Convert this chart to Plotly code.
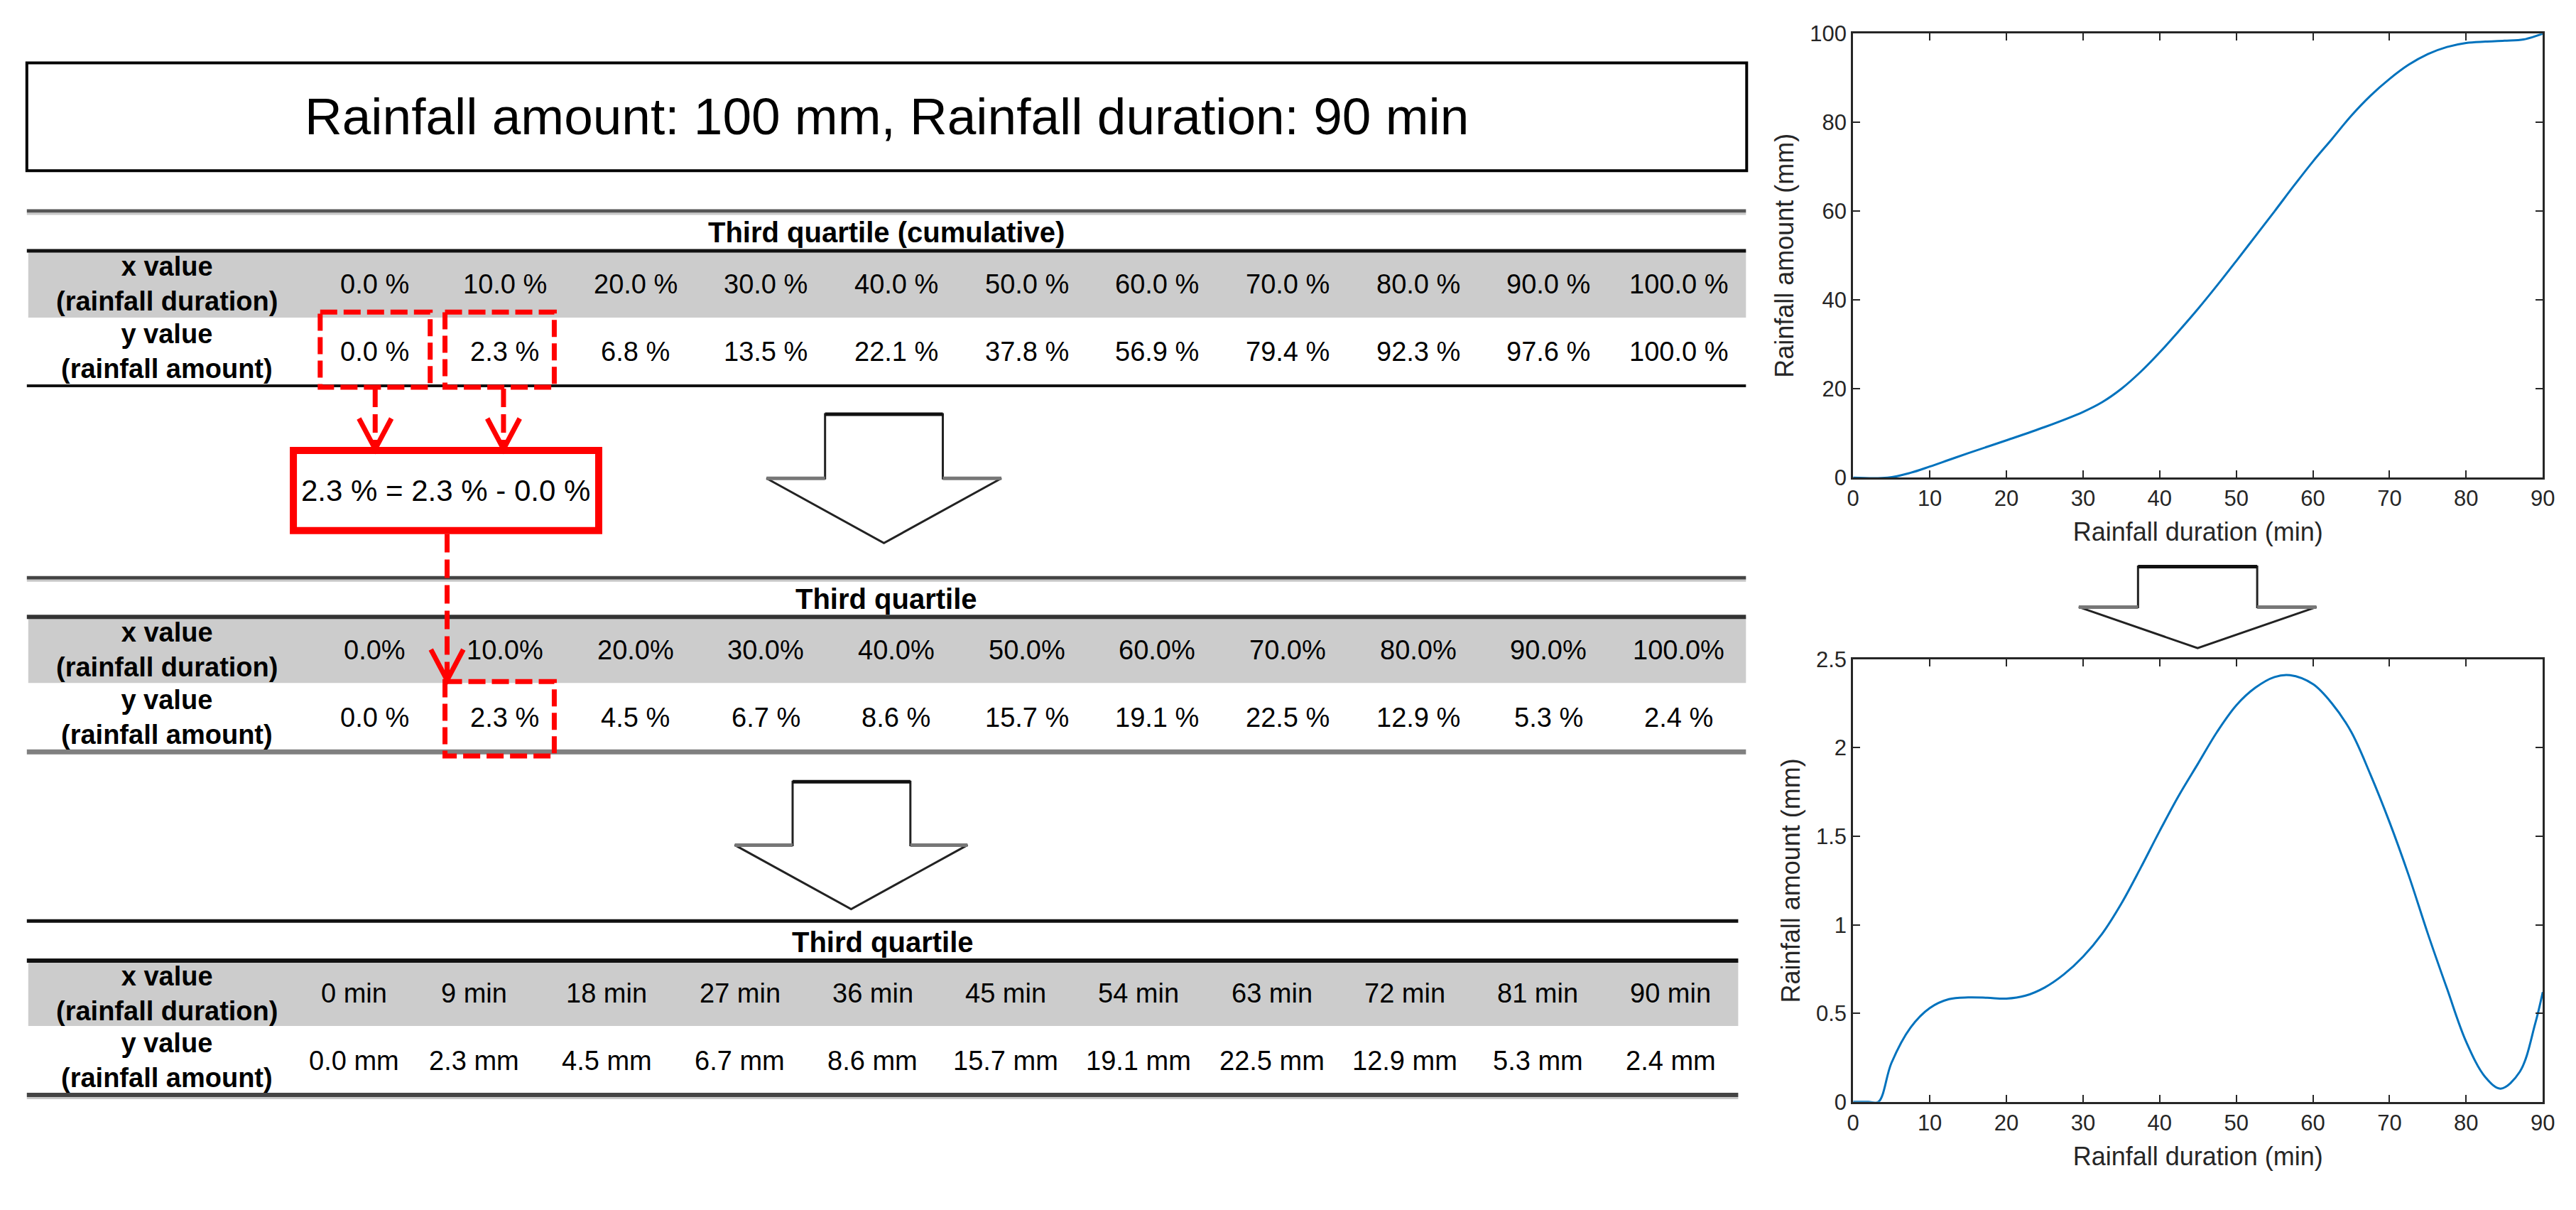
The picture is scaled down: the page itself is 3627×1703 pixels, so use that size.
import plotly.graph_objects as go

W, H = 3627, 1703

# ---------------- data ----------------
duration_pct = [0, 10, 20, 30, 40, 50, 60, 70, 80, 90, 100]
cumulative_pct = [0.0, 2.3, 6.8, 13.5, 22.1, 37.8, 56.9, 79.4, 92.3, 97.6, 100.0]
increment_pct = [0.0, 2.3, 4.5, 6.7, 8.6, 15.7, 19.1, 22.5, 12.9, 5.3, 2.4]
duration_min = [0, 9, 18, 27, 36, 45, 54, 63, 72, 81, 90]
amount_mm = [0.0, 2.3, 4.5, 6.7, 8.6, 15.7, 19.1, 22.5, 12.9, 5.3, 2.4]

main_title = "Rainfall amount: 100 mm, Rainfall duration: 90 min"
table_titles = ["Third quartile (cumulative)", "Third quartile", "Third quartile"]
row_headers = ["x value<br>(rainfall duration)", "y value<br>(rainfall amount)"]

# cumulative curve
cum_curve_x = [0, 4.5, 7.5, 10, 12.5, 15, 20, 25, 30, 32.5, 35, 37.5, 40, 42.5, 45, 47.5, 50, 52.5, 55,
               57.5, 60, 62.5, 65, 67.5, 70, 72.5, 75, 77.5, 80, 82.5, 85, 87.5, 90]
cum_curve_y = [0, 0, 1.1, 2.5, 4.0, 5.5, 8.4, 11.4, 14.8, 17.0, 20.0, 23.8, 28.2, 33.0, 38.0, 43.3, 48.8,
               54.4, 60.0, 65.7, 71.2, 76.3, 81.5, 86.0, 89.8, 93.0, 95.4, 97.0, 97.9, 98.2, 98.4, 98.7, 100]

# rainfall amount per minute
int_curve_x = [0, 2, 3.3, 5, 7.5, 10, 12.5, 15, 17.5, 20, 22.5, 25, 27.5, 30, 32.5, 35, 37.5, 40, 42.5, 45,
               47.5, 50, 52.5, 55, 57, 60, 62.5, 65, 67.5, 70, 72.5, 75, 77.5, 80, 82.5, 84.5, 87, 89, 90]
int_curve_y = [0, 0, 0.0, 0.22, 0.42, 0.53, 0.58, 0.59, 0.588, 0.583, 0.60, 0.646, 0.72, 0.82, 0.95, 1.12,
               1.32, 1.53, 1.73, 1.91, 2.09, 2.24, 2.34, 2.40, 2.41, 2.36, 2.25, 2.09, 1.85, 1.58, 1.28, 0.95,
               0.64, 0.34, 0.14, 0.075, 0.17, 0.44, 0.62]

x_ticks = [0, 10, 20, 30, 40, 50, 60, 70, 80, 90]
cum_ticks = [0, 20, 40, 60, 80, 100]
int_ticks = [0, 0.5, 1, 1.5, 2, 2.5]

# ---------------- helpers (pixel -> paper) ----------------
FONT = "Liberation Sans"
shapes = []
annots = []


def px(x):
    return x / W


def py(y):
    return 1 - y / H


def rect(x0, y0, x1, y1, line_color=None, line_width=0, fill=None, dash=None):
    shapes.append(dict(type="rect", xref="paper", yref="paper",
                       x0=px(x0), x1=px(x1), y0=py(y0), y1=py(y1),
                       line=dict(color=line_color or "rgba(0,0,0,0)", width=line_width, dash=dash),
                       fillcolor=fill or "rgba(0,0,0,0)", layer="above"))


def hline(x0, x1, y, color, width, dash=None):
    shapes.append(dict(type="line", xref="paper", yref="paper",
                       x0=px(x0), x1=px(x1), y0=py(y), y1=py(y),
                       line=dict(color=color, width=width, dash=dash), layer="above"))


def vline(x, y0, y1, color, width, dash=None):
    shapes.append(dict(type="line", xref="paper", yref="paper",
                       x0=px(x), x1=px(x), y0=py(y0), y1=py(y1),
                       line=dict(color=color, width=width, dash=dash), layer="above"))


def path(points, color, width, fill=None, closed=False):
    d = "M " + " L ".join(f"{px(a):.6f},{py(b):.6f}" for a, b in points)
    if closed:
        d += " Z"
    shapes.append(dict(type="path", xref="paper", yref="paper", path=d,
                       line=dict(color=color, width=width),
                       fillcolor=fill or "rgba(0,0,0,0)", layer="above"))


def text(x, y, s, size, color="#000000", bold=False):
    annots.append(dict(xref="paper", yref="paper", x=px(x), y=py(y), text=(f"<b>{s}</b>" if bold else s),
                       showarrow=False, xanchor="center", yanchor="middle",
                       font=dict(family=FONT, size=size, color=color)))


# ---------------- main title box ----------------
rect(29, 73, 2468, 228, line_color="#000000", line_width=4)
text(1248, 150, main_title, 73)

# ---------------- tables ----------------
TS = 38  # table font size
HEAD_X = 228


def table(top, black, gray_bot, bottom, right, title, xcols, xlabels, ylabels, rules):
    (top_c, top_w, top_sh), (blk_c, blk_w), (bot_c, bot_w, bot_sh) = rules
    rect(31, black, right, gray_bot, fill="#cccccc")
    hline(29, right, top, top_c, top_w)
    if top_sh:
        hline(29, right, top + top_w / 2 + 1.5, "#c8c8c8", 3)
    hline(29, right, black, blk_c, blk_w)
    hline(29, right, bottom, bot_c, bot_w)
    if bot_sh:
        hline(29, right, bottom + bot_w / 2 + 1.5, "#c8c8c8", 3)
    text((29 + right) / 2, (top + black) / 2 + 2, title, TS + 2, bold=True)
    xr = (black + gray_bot) / 2
    yr = (gray_bot + bottom) / 2
    text(HEAD_X, xr, row_headers[0], TS, bold=True)
    text(HEAD_X, yr, row_headers[1], TS, bold=True)
    for cx, a, b in zip(xcols, xlabels, ylabels):
        text(cx, xr, a, TS)
        text(cx, yr, b, TS)


cols12 = [522 + 185 * i for i in range(len(duration_pct))]
cols3 = [493] + [663 + 188.6 * i for i in range(len(duration_min) - 1)]

table(286, 343, 439, 537, 2467, table_titles[0], cols12,
      [f"{v:.1f} %" for v in duration_pct], [f"{v:.1f} %" for v in cumulative_pct],
      (("#555555", 5, True), ("#111111", 5), ("#111111", 4, False)))
table(813, 869, 964, 1063, 2467, table_titles[1], cols12,
      [f"{v:.1f}%" for v in duration_pct], [f"{v:.1f} %" for v in increment_pct],
      (("#444444", 5, True), ("#333333", 6), ("#808080", 7, False)))
table(1306, 1363, 1457, 1556, 2456, table_titles[2], cols3,
      [f"{v} min" for v in duration_min], [f"{v:.1f} mm" for v in amount_mm],
      (("#111111", 5, False), ("#111111", 6), ("#444444", 6, True)))


# ---------------- hollow block arrows ----------------
def block_arrow(sl, sr, top, sh, hl, hr, tip):
    tx = (hl + hr) / 2
    path([(sl, top), (sr, top), (sr, sh), (hr, sh), (tx, tip), (hl, sh), (sl, sh)], "#222222", 3,
         fill="#ffffff", closed=True)
    hline(sl, sr, top, "#111111", 5)
    hline(hl, sl, sh, "#777777", 5)
    hline(sr, hr, sh, "#777777", 5)


block_arrow(1161, 1328, 578, 670, 1078, 1411, 763)
block_arrow(1115, 1282, 1106, 1197, 1033, 1363, 1289)
block_arrow(3023, 3192, 797, 855, 2939, 3276, 914)

# ---------------- red annotation of the difference ----------------
RED = "#ff0000"
BOX_DASH = "24px,9px"
rect(445, 431, 601, 539, line_color=RED, line_width=7, dash=BOX_DASH)
rect(622, 431, 777, 539, line_color=RED, line_width=7, dash=BOX_DASH)
rect(622, 962, 777, 1069, line_color=RED, line_width=7, dash=BOX_DASH)


def red_arrow(x, y0, y1, head=44, half=23):
    vline(x, y0, y1 - 6, RED, 7, dash="26px,10px")
    path([(x - half, y1 - head), (x, y1), (x + half, y1 - head)], RED, 7)


red_arrow(523, 541, 628)
red_arrow(705, 541, 628)
rect(407, 630, 840, 745, line_color=RED, line_width=10)
text(623, 688, f"{increment_pct[1]:.1f} % = {cumulative_pct[1]:.1f} % - {cumulative_pct[0]:.1f} %", 42)
red_arrow(625, 750, 960)

# ---------------- charts ----------------
fig = go.Figure()
fig.add_trace(go.Scatter(x=cum_curve_x, y=cum_curve_y, mode="lines", xaxis="x", yaxis="y",
                         line=dict(color="#0072BD", width=3, shape="spline", smoothing=1.0),
                         showlegend=False, hoverinfo="skip"))
fig.add_trace(go.Scatter(x=int_curve_x, y=int_curve_y, mode="lines", xaxis="x2", yaxis="y2",
                         line=dict(color="#0072BD", width=3, shape="spline", smoothing=1.0),
                         showlegend=False, hoverinfo="skip"))

AX = "#262626"
axis_common = dict(showline=True, linecolor=AX, linewidth=3, mirror="ticks", ticks="inside",
                   ticklen=10, tickwidth=2, tickcolor=AX, showgrid=False, zeroline=False,
                   tickfont=dict(family=FONT, size=31, color=AX))
title_font = dict(family=FONT, size=36, color=AX)

xdom = [px(2619), px(3597)]
fig.update_layout(
    width=W, height=H, margin=dict(l=0, r=0, t=0, b=0),
    paper_bgcolor="white", plot_bgcolor="white", showlegend=False,
    xaxis=dict(domain=xdom, range=[0, 90], tickvals=x_ticks, anchor="y",
               title=dict(text="Rainfall duration (min)", font=title_font, standoff=18), **axis_common),
    yaxis=dict(domain=[py(669), py(31)], range=[0, 100], tickvals=cum_ticks, anchor="x",
               title=dict(text="Rainfall amount (mm)", font=title_font, standoff=12), **axis_common),
    xaxis2=dict(domain=xdom, range=[0, 90], tickvals=x_ticks, anchor="y2",
                title=dict(text="Rainfall duration (min)", font=title_font, standoff=18), **axis_common),
    yaxis2=dict(domain=[py(1566), py(930)], range=[0, 2.5], tickvals=int_ticks, anchor="x2",
                title=dict(text="Rainfall amount (mm)", font=title_font, standoff=12), **axis_common),
    shapes=shapes, annotations=annots,
)

fig.write_html("out.html", config={"displayModeBar": False},
               post_script="document.body.style.margin='0';")
